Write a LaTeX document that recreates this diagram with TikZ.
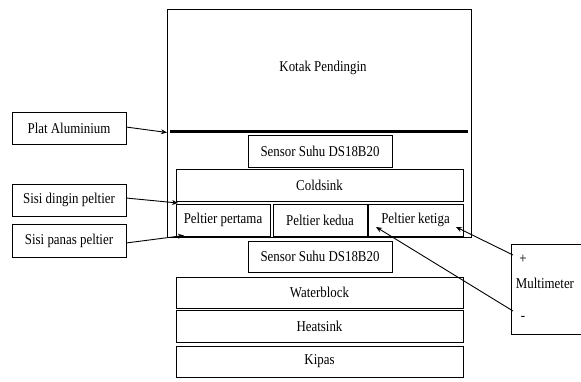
\documentclass[tikz,border=0pt]{standalone}
\usepackage{fontspec}
\setmainfont{Liberation Serif}[FakeStretch=0.86]
\usetikzlibrary{arrows.meta}
\begin{document}
\begin{tikzpicture}[x=1pt,y=-1pt,
  every node/.style={font=\fontsize{15}{17}\selectfont},
  box/.style={draw, line width=0.9pt, inner sep=0pt, outer sep=0pt, anchor=center},
  txt/.style={inner sep=0pt},
  arr/.style={line width=0.9pt, -{Stealth[length=6pt,width=5pt]}},
  wire/.style={line width=0.9pt}]
\useasboundingbox (0,0) rectangle (581,381);

% cooling box
\node[box, minimum width=304pt, minimum height=228pt] (kotak) at (319,123) {};
\node[txt] (kotaklbl) at (323,68) {Kotak Pendingin};
\coordinate (plA) at (170,131.5);
\coordinate (plB) at (468,131.5);
\draw[line width=2.4pt] (plA) -- (plB);

% stack inside the box
\node[box, minimum width=144pt, minimum height=32pt] (sens1) at (320,151) {Sensor Suhu DS18B20};
\node[box, minimum width=287pt, minimum height=32pt] (cold) at (319.5,185) {Coldsink};
\node[box, minimum width=94pt, minimum height=32pt] (pel1) at (223,220) {Peltier pertama};
\node[box, minimum width=94pt, minimum height=32pt] (pel2) at (320,220) {Peltier kedua};
\node[box, minimum width=95pt, minimum height=32pt] (pel3) at (415.5,220) {Peltier ketiga};

% stack below the box
\node[box, minimum width=144pt, minimum height=31pt] (sens2) at (320,256.5) {Sensor Suhu DS18B20};
\node[box, minimum width=287pt, minimum height=31pt] (water) at (319.5,292.5) {Waterblock};
\node[box, minimum width=287pt, minimum height=32pt] (heat) at (319.5,326) {Heatsink};
\node[box, minimum width=287pt, minimum height=31pt] (kipas) at (319.5,361.5) {Kipas};

% labels on the left
\node[box, minimum width=114pt, minimum height=32pt] (plat) at (69,128) {Plat Aluminium};
\node[box, minimum width=114pt, minimum height=32pt] (dingin) at (69,200) {Sisi dingin peltier};
\node[box, minimum width=114pt, minimum height=33pt] (panas) at (69,240.5) {Sisi panas peltier};

% multimeter (runs off the right edge)
\node[box, minimum width=80pt, minimum height=90pt] (multi) at (551,289) {};
\node[txt] (mlbl) at (545,283) {Multimeter};
\node[txt] (plus) at (523,259) {+};
\node[txt] (minus) at (523,318) {-};

% pointers
\coordinate (tPlat) at (167,132.5);
\coordinate (tDingin) at (178,203);
\coordinate (tPanas) at (184,235.5);
\coordinate (tK3) at (456,227);
\coordinate (tK2) at (376,227);
\coordinate (mPlus) at (513,255);
\coordinate (mMinus) at (513,311);
\draw[arr] (plat.east |- 0,127) -- (tPlat);
\draw[arr] (dingin.east |- 0,198) -- (tDingin);
\draw[arr] (panas.east |- 0,243) -- (tPanas);
\draw[arr] (mPlus) -- (tK3);
\draw[arr] (mMinus) -- (tK2);
\end{tikzpicture}
\end{document}
